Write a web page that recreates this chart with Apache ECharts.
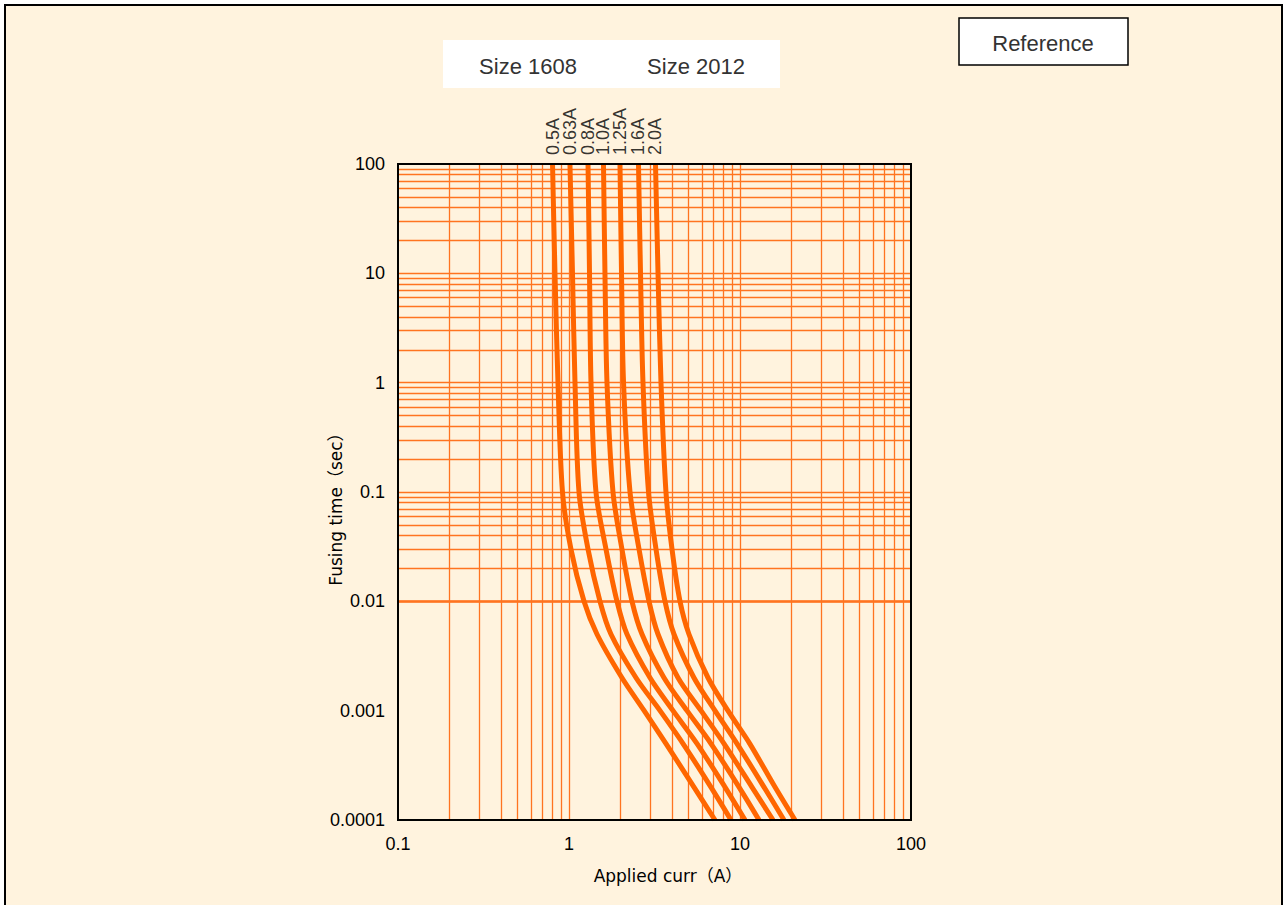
<!DOCTYPE html>
<html>
<head>
<meta charset="utf-8">
<script src="https://cdn.jsdelivr.net/npm/echarts@6/dist/echarts.min.js"></script>
<style>
  html, body { margin: 0; padding: 0; background: #ffffff; width: 1285px; height: 905px; overflow: hidden; }
  #frame { position: absolute; left: 4px; top: 4px; width: 1275px; height: 920px; border: 2px solid #000; background: #FFF3DE; }
  #main { position: absolute; left: 0; top: 0; width: 1285px; height: 905px; }
</style>
</head>
<body>
<div id="frame"></div>
<div id="main"></div>
<script>
// ---- data ----
const ratings = ['0.5A', '0.63A', '0.8A', '1.0A', '1.25A', '1.6A', '2.0A'];
const fusingTime = [100, 10, 1, 0.1, 0.03, 0.01, 0.005, 0.002, 0.001, 0.0005, 0.0002, 0.0001];
const curr_0_5A  = [0.801, 0.828, 0.862, 0.916, 1.027, 1.224, 1.458, 2.04, 2.75, 3.69, 5.38, 7.14];
const curr_0_63A = [1.013, 1.048, 1.084, 1.144, 1.292, 1.518, 1.760, 2.465, 3.405, 4.64, 6.76, 8.86];
const curr_0_8A  = [1.292, 1.318, 1.345, 1.438, 1.646, 1.909, 2.184, 2.977, 4.057, 5.605, 8.17, 10.7];
const curr_1_0A  = [1.591, 1.623, 1.668, 1.808, 2.04, 2.336, 2.673, 3.594, 4.898, 6.76, 9.87, 12.92];
const curr_1_25A = [1.987, 2.028, 2.084, 2.274, 2.567, 2.937, 3.316, 4.34, 5.915, 8.06, 11.75, 15.6];
const curr_1_6A  = [2.549, 2.619, 2.708, 2.917, 3.227, 3.642, 4.112, 5.38, 7.14, 9.60, 13.82, 18.08];
const curr_2_0A  = [3.205, 3.316, 3.451, 3.69, 4.003, 4.458, 5.03, 6.50, 8.50, 11.4, 16.02, 20.97];
const currents = [curr_0_5A, curr_0_63A, curr_0_8A, curr_1_0A, curr_1_25A, curr_1_6A, curr_2_0A];

const xTickLabels = ['0.1', '1', '10', '100'];          // 10^-1 .. 10^2
const yTickLabels = ['0.0001', '0.001', '0.01', '0.1', '1', '10', '100']; // 10^-4 .. 10^2
const legendLabels = ['Size 1608', 'Size 2012'];
const referenceLabel = 'Reference';
const xAxisName = 'Applied curr（A）';
const yAxisName = 'Fusing time（sec）';

// ---- grid lines (log decades 1..9) ----
const gridColor = '#FF7420';
function logLines(minExp, maxExp) {
  const out = [];
  for (let e = minExp; e < maxExp; e++) {
    for (let m = 1; m <= 9; m++) {
      if (e === minExp && m === 1) continue;
      out.push(m * Math.pow(10, e));
    }
  }
  return out;
}
const gridMarks = [];
logLines(-1, 2).forEach(v => gridMarks.push({ xAxis: v }));
logLines(-4, 2).forEach(v => gridMarks.push({ yAxis: v }));

const chart = echarts.init(document.getElementById('main'), null, { renderer: 'svg' });

const labelFont = 'Liberation Sans, Arial, sans-serif';
const nameFont = 'DejaVu Sans, Noto Sans CJK JP, sans-serif';

const curveSeries = ratings.map((name, i) => ({
  name: name,
  type: 'line',
  smooth: 0.3,
  symbol: 'none',
  z: 5,
  lineStyle: { color: '#FF6600', width: 5 },
  data: fusingTime.map((t, k) => [currents[i][k], t])
}));

const ratingLabelSeries = {
  name: 'ratings',
  type: 'scatter',
  z: 6,
  silent: true,
  clip: false,
  symbol: 'circle',
  symbolSize: 2,
  itemStyle: { color: 'rgba(0,0,0,0)' },
  label: {
    show: true, position: 'top', rotate: 90, align: 'left', verticalAlign: 'middle',
    distance: 8, color: '#000', fontFamily: labelFont, fontSize: 18,
    formatter: p => p.name
  },
  labelLayout: { hideOverlap: false },
  data: ratings.map((name, i) => ({ name: name, value: [currents[i][0], fusingTime[0]] }))
};

const option = {
  backgroundColor: 'transparent',
  animation: false,
  grid: {
    left: 398, top: 164, width: 513, height: 656,
    show: true, borderColor: '#000', borderWidth: 2, backgroundColor: 'transparent', z: 10
  },
  xAxis: {
    type: 'log', logBase: 10, min: 0.1, max: 100,
    name: xAxisName, nameLocation: 'middle', nameGap: 47, nameMoveOverlap: false,
    nameTextStyle: { fontFamily: nameFont, fontSize: 17, color: '#000', padding: [0, 0, 0, 27] },
    axisLine: { show: true, lineStyle: { color: '#000', width: 2 } },
    axisTick: { show: false },
    splitLine: { show: false },
    axisLabel: {
      margin: 15, color: '#000', fontFamily: labelFont, fontSize: 18,
      formatter: v => xTickLabels[Math.round(Math.log10(v)) + 1]
    }
  },
  yAxis: {
    type: 'log', logBase: 10, min: 0.0001, max: 100,
    name: yAxisName, nameLocation: 'middle', nameGap: 54, nameMoveOverlap: false,
    nameTextStyle: { fontFamily: nameFont, fontSize: 17, color: '#000', padding: [0, 26, 0, 0] },
    axisLine: { show: true, lineStyle: { color: '#000', width: 2 } },
    axisTick: { show: false },
    splitLine: { show: false },
    axisLabel: {
      margin: 13, color: '#000', fontFamily: labelFont, fontSize: 18,
      formatter: v => yTickLabels[Math.round(Math.log10(v)) + 4]
    }
  },
  graphic: [
    { type: 'rect', shape: { x: 443, y: 40, width: 337, height: 48 }, style: { fill: '#ffffff' }, z: 1 },
    { type: 'text', x: 528, y: 66, style: { text: legendLabels[0], fill: '#333', font: '22px "Liberation Sans", Arial, sans-serif', align: 'center', verticalAlign: 'middle' }, z: 2 },
    { type: 'text', x: 696, y: 66, style: { text: legendLabels[1], fill: '#333', font: '22px "Liberation Sans", Arial, sans-serif', align: 'center', verticalAlign: 'middle' }, z: 2 },
    { type: 'rect', shape: { x: 959, y: 18, width: 169, height: 47 }, style: { fill: '#ffffff', stroke: '#000', lineWidth: 1.5 }, z: 1 },
    { type: 'text', x: 1043, y: 43, style: { text: referenceLabel, fill: '#333', font: '22px "Liberation Sans", Arial, sans-serif', align: 'center', verticalAlign: 'middle' }, z: 2 }
  ],
  series: [
    {
      name: 'grid', type: 'line', data: [], z: 1, silent: true,
      markLine: {
        silent: true, symbol: ['none', 'none'], animation: false,
        label: { show: false },
        lineStyle: { color: gridColor, width: 1.3, type: 'solid' },
        emphasis: { disabled: true },
        data: gridMarks
      }
    }
  ].concat(curveSeries, [ratingLabelSeries])
};
chart.setOption(option);
</script>
</body>
</html>
